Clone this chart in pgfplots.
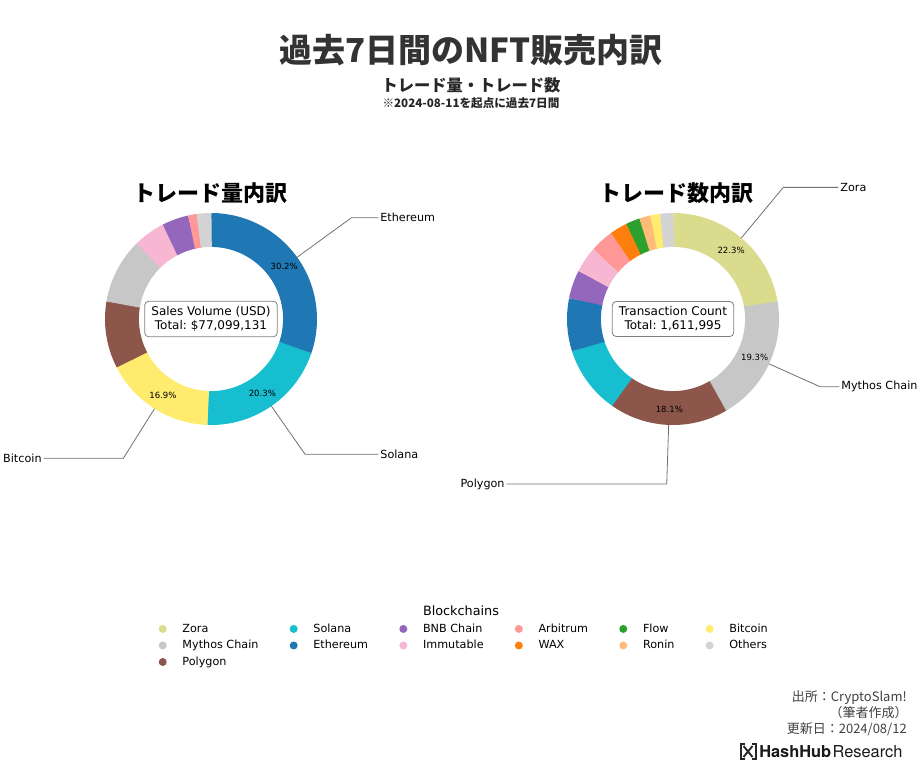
\documentclass[border=0pt]{standalone}
\usepackage{pgfplots}
\usepackage{pgfplotstable}
\pgfplotsset{compat=1.18}
\usepackage{fontspec}
\setmainfont{DejaVu Sans}
\newfontfamily\jp{Noto Sans CJK JP}
\newfontfamily\heros{TeX Gyre Heros}

\definecolor{cZora}{HTML}{DBDB8D}
\definecolor{cMythos}{HTML}{C7C7C7}
\definecolor{cPolygon}{HTML}{8C564B}
\definecolor{cSolana}{HTML}{17BECF}
\definecolor{cEthereum}{HTML}{1F77B4}
\definecolor{cBNB}{HTML}{9467BD}
\definecolor{cImmutable}{HTML}{F7B6D2}
\definecolor{cArbitrum}{HTML}{FF9896}
\definecolor{cWAX}{HTML}{FF7F0E}
\definecolor{cFlow}{HTML}{2CA02C}
\definecolor{cRonin}{HTML}{FFBB78}
\definecolor{cBitcoin}{HTML}{FFEB6E}
\definecolor{cOthers}{HTML}{D3D3D3}
\definecolor{leadgray}{HTML}{707070}

% share of sales volume (%), clockwise from 12 o'clock
\pgfplotstableread{
name value color
Ethereum 30.2 cEthereum
Solana 20.3 cSolana
Bitcoin 16.9 cBitcoin
Polygon 10.2 cPolygon
Mythos 10.0 cMythos
Immutable 4.8 cImmutable
BNB 4.1 cBNB
Arbitrum 1.3 cArbitrum
Others 2.2 cOthers
}\volumetable

% share of transaction count (%), clockwise from 12 o'clock
\pgfplotstableread{
name value color
Zora 22.3 cZora
Mythos 19.3 cMythos
Polygon 18.1 cPolygon
Solana 10.3 cSolana
Ethereum 8.1 cEthereum
BNB 4.3 cBNB
Immutable 4.0 cImmutable
Arbitrum 3.6 cArbitrum
WAX 2.7 cWAX
Flow 2.1 cFlow
Ronin 1.7 cRonin
Bitcoin 1.5 cBitcoin
Others 2.0 cOthers
}\counttable

\tikzset{
  pct/.style={font=\fontsize{6.4}{7.5}\selectfont, inner sep=0pt},
  lbl/.style={font=\fontsize{8.4}{10}\selectfont, inner xsep=1.3pt, inner ysep=0pt},
  leader/.style={draw=leadgray, line width=0.6pt},
  cbox/.style={draw=black!50, line width=0.6pt, rounded corners=3pt, fill=white, align=center,
     font=\fontsize{9}{10.5}\selectfont\frenchspacing, inner xsep=5pt, inner ysep=4pt},
}

\newcommand\donut[1]{%
  \pgfplotstablegetrowsof{#1}%
  \pgfmathtruncatemacro\lastrow{\pgfplotsretval-1}%
  \xdef\curang{90}%
  \pgfplotsforeachungrouped \i in {0,...,\lastrow}{%
    \pgfplotstablegetelem{\i}{value}\of{#1}\edef\sliceval{\pgfplotsretval}%
    \pgfplotstablegetelem{\i}{color}\of{#1}\edef\slicecol{\pgfplotsretval}%
    \pgfmathsetmacro\endang{\curang-3.6*\sliceval}%
    \pgfmathsetmacro\drawend{\endang-0.4}%
    \pgfmathsetmacro\midang{\curang-1.8*\sliceval}%
    \pgfmathsetmacro\sx{0.84*cos(\curang)}%
    \pgfmathsetmacro\sy{0.84*sin(\curang)}%
    \edef\temp{\noexpand\draw[draw=\slicecol, line width=25.44pt] (axis cs:\sx,\sy) arc[start angle=\curang, end angle=\drawend, radius=66.78pt];}%
    \temp
    \ifdim\sliceval pt>15pt
      \pgfmathsetmacro\lx{0.85*cos(\midang)}%
      \pgfmathsetmacro\ly{0.85*sin(\midang)}%
      \edef\temp{\noexpand\node[pct] at (axis cs:\lx,\ly) {\sliceval\noexpand\%};}%
      \temp
    \fi
    \xdef\curang{\endang}%
  }%
}

\begin{document}
\begin{tikzpicture}[x=0.75pt,y=-0.75pt]
\useasboundingbox (0,0) rectangle (922,768);

% titles
\node[font=\jp\bfseries\fontsize{24.75}{28}\selectfont, text=black!80] at (471,50) {過去7日間のNFT販売内訳};
\node[font=\jp\bfseries\fontsize{12.2}{14}\selectfont, text=black!85] at (471,85) {トレード量・トレード数};
\node[font=\jp\bfseries\fontsize{8.7}{10}\selectfont, text=black!85] at (471,103) {※2024-08-11を起点に過去7日間};
\node[font=\jp\bfseries\fontsize{16.5}{19}\selectfont] at (210,193) {トレード量内訳};
\node[font=\jp\bfseries\fontsize{16.5}{19}\selectfont] at (676,193) {トレード数内訳};

% left donut: sales volume
\begin{axis}[at={(158.25pt,-239.25pt)}, anchor=center, hide axis, x=79.5pt, y=79.5pt,
  xmin=-1, xmax=1, ymin=-1, ymax=1, clip=false]
\donut{\volumetable}
\node[cbox] at (axis cs:0,0) {Sales Volume (USD)\\Total: \$77,099,131};
\draw[leader] (axis cs:0.813,0.583) -- (axis cs:1.326,0.956) -- (axis cs:1.578,0.956) node[right, lbl] {Ethereum};
\draw[leader] (axis cs:0.570,-0.822) -- (axis cs:0.887,-1.276) -- (axis cs:1.578,-1.276) node[right, lbl] {Solana};
\draw[leader] (axis cs:-0.533,-0.846) -- (axis cs:-0.827,-1.314) -- (axis cs:-1.578,-1.314) node[left, lbl] {Bitcoin};
\end{axis}

% right donut: transaction count
\begin{axis}[at={(504.75pt,-239.25pt)}, anchor=center, hide axis, x=79.5pt, y=79.5pt,
  xmin=-1, xmax=1, ymin=-1, ymax=1, clip=false]
\donut{\counttable}
\node[cbox] at (axis cs:0,0) {Transaction Count\\Total: 1,611,995};
\draw[leader] (axis cs:0.645,0.765) -- (axis cs:1.041,1.242) -- (axis cs:1.559,1.242) node[right, lbl] {Zora};
\draw[leader] (axis cs:0.906,-0.423) -- (axis cs:1.387,-0.639) -- (axis cs:1.569,-0.639) node[right, lbl] {Mythos Chain};
\draw[leader] (axis cs:-0.041,-0.999) -- (axis cs:-0.059,-1.557) -- (axis cs:-1.569,-1.557) node[left, lbl] {Polygon};
\end{axis}

% legend
\node[font=\fontsize{9.6}{11}\selectfont] at (461,611) {Blockchains};
\begin{axis}[at={(345.75pt,-465.75pt)}, anchor=north, hide axis, scale only axis, width=10pt, height=10pt,
  xmin=0, xmax=1, ymin=0, ymax=1,
  legend columns=6, legend cell align=left,
  legend image code/.code={\path[draw=none, fill=none] (0pt,-3pt) rectangle (16.8pt,3pt); \fill[draw=none] (8.4pt,0pt) circle (3pt);},
  legend style={at={(0.5,1)}, anchor=north, draw=none, fill=none, inner sep=0pt,
    font=\fontsize{8.4}{10}\selectfont,
    nodes={inner sep=2pt, text height=6.2pt, text depth=1.3pt},
    row sep=0.9pt,
    /tikz/every odd column/.append style={column sep=4.4pt},
    /tikz/every even column/.append style={column sep=16pt}}]
\addlegendimage{cZora}\addlegendentry{Zora}
\addlegendimage{cSolana}\addlegendentry{Solana}
\addlegendimage{cBNB}\addlegendentry{BNB Chain}
\addlegendimage{cArbitrum}\addlegendentry{Arbitrum}
\addlegendimage{cFlow}\addlegendentry{Flow}
\addlegendimage{cBitcoin}\addlegendentry{Bitcoin}
\addlegendimage{cMythos}\addlegendentry{Mythos Chain}
\addlegendimage{cEthereum}\addlegendentry{Ethereum}
\addlegendimage{cImmutable}\addlegendentry{Immutable}
\addlegendimage{cWAX}\addlegendentry{WAX}
\addlegendimage{cRonin}\addlegendentry{Ronin}
\addlegendimage{cOthers}\addlegendentry{Others}
\addlegendimage{cPolygon}\addlegendentry{Polygon}
\end{axis}

% footer
\node[anchor=east, font=\jp\fontsize{9.75}{11}\selectfont, text=black!75, inner sep=0pt] at (907,698) {出所：CryptoSlam!};
\node[anchor=east, font=\jp\fontsize{9.75}{11}\selectfont, text=black!75, inner sep=0pt] at (908,713) {（筆者作成）};
\node[anchor=east, font=\jp\fontsize{9.75}{11}\selectfont, text=black!75, inner sep=0pt] at (907,729) {更新日：2024/08/12};
% logo
\draw[line width=1.5pt, black!85] (744.5,744) -- (740.5,744) -- (740.5,759) -- (744.5,759);
\draw[line width=1.5pt, black!85] (751.5,744) -- (755.5,744) -- (755.5,759) -- (751.5,759);
\draw[line width=1.4pt, black!85] (743.5,746) -- (752.5,757);
\draw[line width=1.4pt, black!85] (752.5,746) -- (743.5,757);
\node[anchor=west, font=\heros\fontsize{12.3}{14}\selectfont, text=black!90, inner sep=0pt] at (759,751.5) {\textbf{HashHub}\hspace{1pt}Research};
\end{tikzpicture}
\end{document}
